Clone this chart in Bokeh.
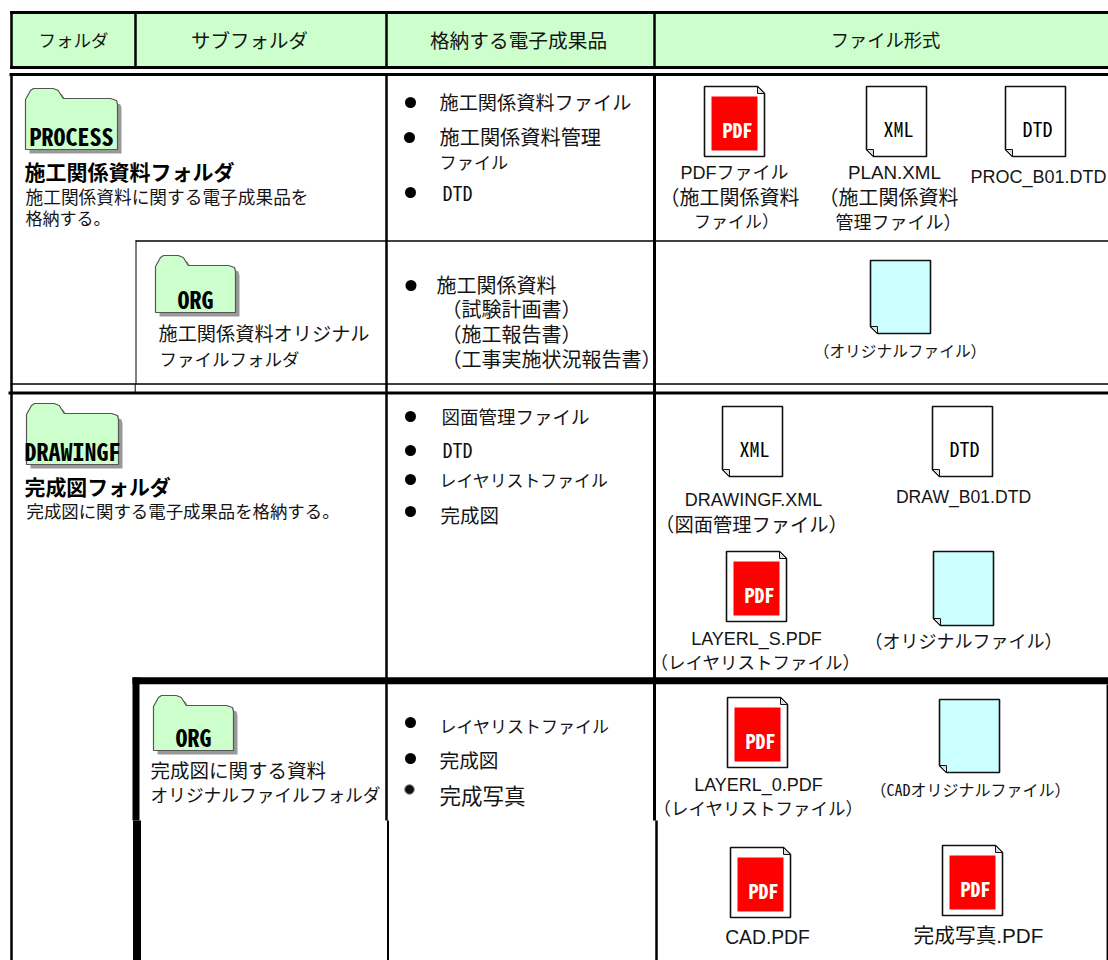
from bokeh.plotting import figure
from bokeh.models import Range1d
from bokeh.core.properties import value
from bokeh.embed import file_html
from bokeh.resources import INLINE

GREEN = "#CCFFCC"; CYAN = "#CCFFFF"; RED = "#FF0000"; INK = "#151515"
FONT = "Liberation Sans, Noto Sans CJK JP"
MONO = "Noto Sans Mono CJK JP"

headers = ["フォルダ", "サブフォルダ", "格納する電子成果品", "ファイル形式"]
folders = ["PROCESS", "ORG", "DRAWINGF", "ORG"]
bullets_process = ["施工関係資料ファイル", "施工関係資料管理", "ファイル", "DTD"]
bullets_process_org = ["施工関係資料", "（試験計画書）", "（施工報告書）", "（工事実施状況報告書）"]
bullets_drawing = ["図面管理ファイル", "DTD", "レイヤリストファイル", "完成図"]
bullets_drawing_org = ["レイヤリストファイル", "完成図", "完成写真"]

p = figure(width=1108, height=960, x_range=Range1d(0, 1108), y_range=Range1d(960, 0),
           x_axis_location=None, y_axis_location=None, toolbar_location=None,
           output_backend="svg", min_border=0, outline_line_color=None)
p.grid.visible = False


def t(x, y, s, size=18, anchor="left", bold=False, color=INK, font=FONT):
    if font == MONO:
        y -= 1.5
    p.text([x], [y], text=[s], text_font=value(font), text_font_size=f"{size}px",
           text_align=anchor, text_baseline="middle", text_color=color,
           text_font_style="bold" if bold else "normal")


def ln(x0, y0, x1, y1, w=3):
    p.segment([x0], [y0], [x1], [y1], line_color="#000000", line_width=w, line_cap="butt")


def folder(x, y, w, h, label):
    e = 0.41 * w
    xs = [0, 5, 8, e - 10, e - 5, e, w - 7, w - 1, w, w, 0]
    ys = [11, 2, 0, 0, 2, 10, 10, 12, 16, h, h]
    p.patch([x + a + 4 for a in xs], [y + b + 4 for b in ys], fill_color="#999999", line_color=None)
    p.patch([x + a for a in xs], [y + b for b in ys], fill_color=GREEN, line_color="#555555", line_width=1.2)
    t(x + w / 2, y + h - 13, label, 24, "center", True, "#000000", MONO)


def doc(x, y, w, h, fold, fill="#FFFFFF"):
    f = 7
    if fold == "tr":
        xs = [x, x + w - f, x + w, x + w, x]
        ys = [y, y, y + f, y + h, y + h]
        fx = [x + w - f, x + w, x + w - f]
        fy = [y, y + f, y + f]
    else:
        xs = [x, x + w, x + w, x + f, x]
        ys = [y, y, y + h, y + h, y + h - f]
        fx = [x, x + f, x + f]
        fy = [y + h - f, y + h, y + h - f]
    p.patch(xs, ys, fill_color=fill, line_color="#111111", line_width=1.6)
    p.patch(fx, fy, fill_color="#DDDDDD", line_color="#111111", line_width=1)


def pdf(x, y):
    doc(x, y, 60, 70, "tr")
    p.quad(left=[x + 7], right=[x + 53], top=[y + 10], bottom=[y + 64], fill_color=RED, line_color=None)
    t(x + 33, y + 44, "PDF", 20, "center", True, "#FFFFFF", MONO)


def labelled(x, y, s, w=60):
    doc(x, y, w, 70, "bl")
    t(x + 32, y + 43, s, 20, "center", False, "#000000", MONO)


# header band
p.quad(left=[10], right=[1108], top=[12], bottom=[67], fill_color=GREEN, line_color=None)
ln(9.5, 12, 1108, 12, 3)
ln(9.5, 67, 1108, 67, 3)
ln(11, 12, 11, 68, 2.5)
ln(135, 13, 135, 66, 2.5)
ln(386, 13, 386, 66, 2.5)
ln(654, 13, 654, 66, 2.5)
for x, s, size in zip([73, 249, 518, 885], headers, [17.5, 19.5, 19.7, 18.3]):
    t(x, 40, s, size, "center")

# table rules
ln(9, 74, 1108, 74, 3)
ln(11, 73, 11, 960, 2.5)
ln(386, 73, 386, 820, 2.5)
ln(387.5, 820, 387.5, 960, 2)
ln(654, 73, 654, 820, 3)
ln(656, 820, 656, 960, 2.5)
ln(135, 240.5, 1108, 240.5, 1.3)
ln(135.5, 240, 135.5, 384, 1)
ln(10, 383.5, 1108, 383.5, 1.5)
ln(134.7, 384, 134.7, 392, 1)
ln(8, 392.5, 1108, 392.5, 2.8)
ln(132, 680.3, 1108, 680.3, 7)
ln(135.5, 677, 135.5, 820, 7)
ln(136.5, 820, 136.5, 960, 8)
ln(1106.8, 684, 1106.8, 960, 1.5)

# folders
folder(25, 88, 92, 61, folders[0])
t(24, 172, "施工関係資料フォルダ", 21, "left", True, "#000000")
t(25, 197, "施工関係資料に関する電子成果品を", 17.7)
t(25, 219, "格納する。", 17)
folder(155, 255, 80, 57, folders[1])
t(158, 334, "施工関係資料オリジナル", 19.2)
t(159, 359, "ファイルフォルダ", 17.5)
folder(26, 403, 92, 61, folders[2])
t(24, 487, "完成図フォルダ", 20.9, "left", True, "#000000")
t(26, 511, "完成図に関する電子成果品を格納する。", 17.4)
folder(153, 695, 80, 55, folders[3])
t(150, 770, "完成図に関する資料", 19.5)
t(150, 795, "オリジナルファイルフォルダ", 17.7)

# bullets
bx = [410, 409, 410, 410.5, 410, 410, 410, 410, 410, 410]
by = [102, 137, 192, 285, 416, 450, 479, 511, 722, 758]
p.scatter(bx, by, size=11, fill_color="#000000", line_color=None)
p.scatter([409], [789], size=9.5, fill_color="#111111", line_color="#777777", line_width=1)

t(439, 103, bullets_process[0], 19.2)
t(439, 137, bullets_process[1], 20.2)
t(439, 162, bullets_process[2], 17.2)
t(442, 193, bullets_process[3], 20, font=MONO)
t(436, 285, bullets_process_org[0], 20)
for y, s in zip([309, 334, 359], bullets_process_org[1:]):
    t(441, y, s, 20)
t(441, 417, bullets_drawing[0], 18.5)
t(442, 450, bullets_drawing[1], 20, font=MONO)
t(439, 481, bullets_drawing[2], 16.9)
t(440, 515, bullets_drawing[3], 19.5)
t(439, 727, bullets_drawing_org[0], 17)
t(439, 760, bullets_drawing_org[1], 19.7)
t(439, 796, bullets_drawing_org[2], 21.5)

# files
pdf(704, 86)
t(734, 172, "PDFファイル", 18, "center")
t(729, 197, "（施工関係資料", 20, "center")
t(736, 222, "ファイル）", 17, "center")
labelled(866, 86, "XML")
t(894, 172, "PLAN.XML", 18.8, "center")
t(888, 197, "（施工関係資料", 20, "center")
t(898, 222, "管理ファイル）", 18, "center")
labelled(1005, 86, "DTD")
t(1038, 176, "PROC_B01.DTD", 18, "center")

doc(870, 260, 60, 73, "bl", CYAN)
t(899.5, 351, "（オリジナルファイル）", 15.7, "center")

labelled(722, 406, "XML")
t(753, 499, "DRAWINGF.XML", 18, "center")
t(751, 525, "（図面管理ファイル）", 19.3, "center")
labelled(932, 406, "DTD")
t(963, 496, "DRAW_B01.DTD", 17.6, "center")

pdf(726, 551)
t(756, 638, "LAYERL_S.PDF", 18, "center")
t(755, 662, "（レイヤリストファイル）", 17.5, "center")
doc(933, 551, 60, 74, "bl", CYAN)
t(963, 641, "（オリジナルファイル）", 18, "center")

pdf(727, 697)
t(758, 784, "LAYERL_0.PDF", 18, "center")
t(758, 808, "（レイヤリストファイル）", 17.5, "center")
doc(939, 699, 60, 73, "bl", CYAN)
t(970, 790, "（CADオリジナルファイル）", 16, "center", font=MONO)

pdf(730, 847)
t(767, 937, "CAD.PDF", 19.3, "center")
pdf(942, 845)
t(978, 935, "完成写真.PDF", 20.7, "center")

open("out.html", "w").write(file_html(p, INLINE))
